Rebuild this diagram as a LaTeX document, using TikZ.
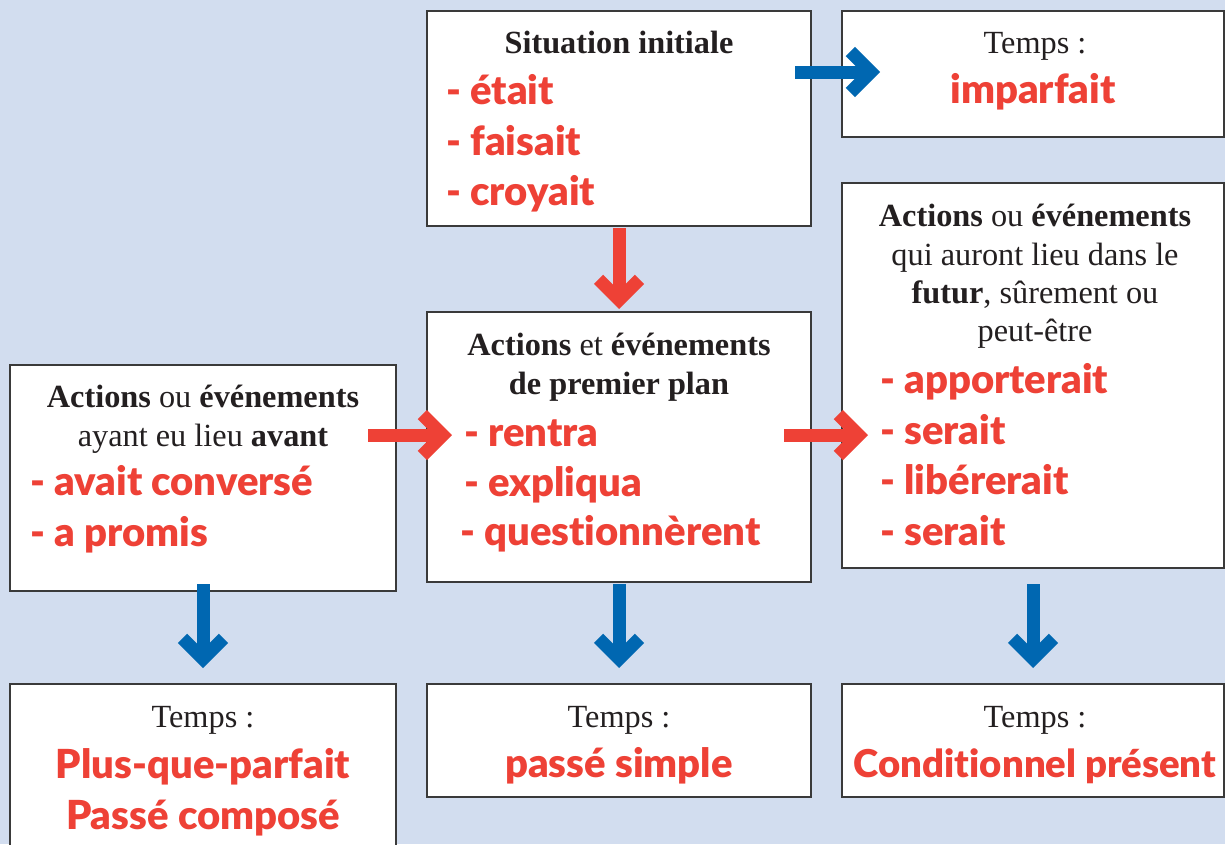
\documentclass[tikz,border=0pt]{standalone}
\usepackage{fontspec}
\setmainfont{Liberation Serif}
\IfFontExistsTF{Lato Black}{\newfontfamily\redf{Lato Black}[Ligatures=NoCommon]}{%
  \IfFontExistsTF{Lato Heavy}{\newfontfamily\redf{Lato Heavy}[Ligatures=NoCommon]}{%
    \newfontfamily\redf{Lato Bold}[FakeBold=2.2,Ligatures=NoCommon]}}
\usetikzlibrary{calc}
\definecolor{redt}{HTML}{EE4136}
\definecolor{bluea}{HTML}{0067B1}
\definecolor{bgc}{HTML}{D2DDEF}
\definecolor{bordc}{HTML}{3A3A3A}
\definecolor{inkc}{HTML}{231F20}
\tikzset{
  box/.style={draw=bordc, line width=1.6pt, fill=white, rectangle, inner sep=0pt},
  blk/.style={inner sep=0pt, anchor=base, text=inkc, font=\fontsize{32.3}{36}\selectfont},
  redl/.style={inner sep=0pt, anchor=base west, text=redt, font=\redf\fontsize{40}{44}\selectfont},
  redc/.style={inner sep=0pt, anchor=base, text=redt, font=\redf\fontsize{40}{44}\selectfont},
}
\newcommand{\fatarrow}[3]{%
  \draw[#1, line width=13pt, line cap=butt] (#2) -- ($(#3)!9.2pt!(#2)$);
  \draw[#1, line width=13pt, line cap=butt, line join=miter]
    ($($(#3)!9.2pt!(#2)$)!29pt!45:(#2)$) -- ($(#3)!9.2pt!(#2)$) -- ($($(#3)!9.2pt!(#2)$)!29pt!-45:(#2)$);
}
\begin{document}
\begin{tikzpicture}[x=1pt,y=-1pt]
\useasboundingbox (0,0) rectangle (1225,844);
\clip (0,0) rectangle (1225,844);
\fill[bgc] (0,0) rectangle (1225,844);

% boxes
\node[box, minimum width=384pt, minimum height=215pt] (sit) at (619,118.5) {};
\node[box, minimum width=382pt, minimum height=126pt] (imp) at (1033,74) {};
\node[box, minimum width=382pt, minimum height=385pt] (fut) at (1033,375.5) {};
\node[box, minimum width=384pt, minimum height=270pt] (mid) at (619,447) {};
\node[box, minimum width=386pt, minimum height=226pt] (lft) at (203,478) {};
\node[box, minimum width=386pt, minimum height=190pt] (bl) at (203,779) {};
\node[box, minimum width=384pt, minimum height=113pt] (bm) at (619,740.5) {};
\node[box, minimum width=382pt, minimum height=113pt] (br) at (1033,740.5) {};

% Situation initiale
\node[blk] (sit1) at (619,53) {\bfseries Situation initiale};
\node[redl] (sit2) at (446,104) {- était};
\node[redl] (sit3) at (446,155) {- faisait};
\node[redl] (sit4) at (446,205) {- croyait};

% imparfait
\node[blk] (imp1) at (1035,53) {Temps :};
\node[redc] (imp2) at (1033,103) {imparfait};

% futur
\node[blk] (fut1) at (1035,226) {\textbf{Actions} ou \textbf{événements}};
\node[blk] (fut2) at (1035,265) {qui auront lieu dans le};
\node[blk] (fut3) at (1035,303) {\textbf{futur}, sûrement ou};
\node[blk] (fut4) at (1035,341) {peut-être};
\node[redl] (fut5) at (880,393) {- apporterait};
\node[redl] (fut6) at (880,444) {- serait};
\node[redl] (fut7) at (880,494) {- libérerait};
\node[redl] (fut8) at (880,545) {- serait};

% premier plan
\node[blk] (mid1) at (619,355) {\textbf{Actions} et \textbf{événements}};
\node[blk] (mid2) at (619,394) {\bfseries de premier plan};
\node[redl] (mid3) at (464,446) {- rentra};
\node[redl] (mid4) at (464,496) {- expliqua};
\node[redl] (mid5) at (460,545) {- questionnèrent};

% avant
\node[blk] (lft1) at (203,407) {\textbf{Actions} ou \textbf{événements}};
\node[blk] (lft2) at (203,446) {ayant eu lieu \textbf{avant}};
\node[redl] (lft3) at (30,495) {- avait conversé};
\node[redl] (lft4) at (30,546) {- a promis};

% bottom boxes
\node[blk] (bl1) at (203,727) {Temps :};
\node[redc] (bl2) at (203,778) {Plus-que-parfait};
\node[redc] (bl3) at (203,829) {Passé composé};
\node[blk] (bm1) at (619,727) {Temps :};
\node[redc] (bm2) at (619,777) {passé simple};
\node[blk] (br1) at (1035,727) {Temps :};
\node[redc, font=\redf\fontsize{38.3}{44}\selectfont] (br2) at (1035,777) {Conditionnel présent};

% arrows
\coordinate (a1s) at (795,72);  \coordinate (a1e) at (880,72);
\coordinate (a2s) at (619,228); \coordinate (a2e) at (619,309);
\coordinate (a3s) at (368,435); \coordinate (a3e) at (452,435);
\coordinate (a4s) at (784,435); \coordinate (a4e) at (868,435);
\coordinate (a5s) at (203,584); \coordinate (a5e) at (203,668);
\coordinate (a6s) at (619,584); \coordinate (a6e) at (619,668);
\coordinate (a7s) at (1033,584); \coordinate (a7e) at (1033,668);
\fatarrow{bluea}{a1s}{a1e}
\fatarrow{redt}{a2s}{a2e}
\fatarrow{redt}{a3s}{a3e}
\fatarrow{redt}{a4s}{a4e}
\fatarrow{bluea}{a5s}{a5e}
\fatarrow{bluea}{a6s}{a6e}
\fatarrow{bluea}{a7s}{a7e}
\end{tikzpicture}
\end{document}
